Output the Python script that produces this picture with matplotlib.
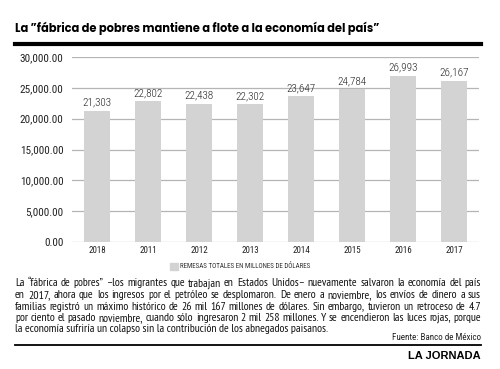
import matplotlib
matplotlib.use("Agg")
import matplotlib.pyplot as plt
from matplotlib import font_manager

# data
years = ['2018', '2011', '2012', '2013', '2014', '2015', '2016', '2017']
remesas = [21303, 22802, 22438, 22302, 23647, 24784, 26993, 26167]
yticks = [0, 5000, 10000, 15000, 20000, 25000, 30000]

title = "La \u201dfábrica de pobres mantiene a flote a la economía del país\u201d"
legend_txt = "REMESAS TOTALES EN MILLONES DE DÓLARES"
parrafo = [
    "La \u201cfábrica de pobres\u201d \u2013los migrantes que trabajan en Estados Unidos\u2013 nuevamente salvaron la economía del país",
    "en 2017, ahora que los ingresos por el petróleo se desplomaron. De enero a noviembre, los envíos de dinero a sus",
    "familias registró un máximo histórico de 26 mil 167 millones de dólares. Sin embargo, tuvieron un retroceso de 4.7",
    "por ciento el pasado noviembre, cuando sólo ingresaron 2 mil 258 millones. Y se encendieron las luces rojas, porque",
    "la economía sufriría un colapso sin la contribución de los abnegados paisanos.",
]

names = {f.name for f in font_manager.fontManager.ttflist}
def pick(*fams):
    return [f for f in fams if f in names] + ['DejaVu Sans']

narrow = pick('Roboto Condensed', 'PT Sans Narrow')
body_font = pick('PT Sans Narrow', 'Roboto Condensed')
title_font = pick('Poppins', 'Lato')

W, H = 500, 369
fig = plt.figure(figsize=(5, 3.69), dpi=100)
renderer = fig.canvas.get_renderer()

def fx(px):
    return px / W

def fy(py):
    return 1 - py / H

def width_px(t):
    return t.get_window_extent(renderer).width

# title (scaled to span the same width as the reference) and rules
t = fig.text(fx(15), fy(28), title, fontsize=11, fontweight='bold', family=title_font,
             va='center', ha='left')
t.set_fontsize(11 * 363 / width_px(t))
fig.add_artist(plt.Line2D([fx(15), fx(481)], [fy(44), fy(44)], color='black', lw=3))

# chart
ax = fig.add_axes([fx(72), fy(242), fx(479 - 72), (242 - 57) / H])
x = range(len(years))
ax.bar(x, remesas, width=0.51, color='#d3d3d3', zorder=2)
for i, v in enumerate(remesas):
    ax.text(i, v + 500, f"{v:,}", ha='center', va='bottom', fontsize=8, family=narrow,
            fontweight='light', color='#222222')
ax.set_ylim(0, 30000)
ax.set_xlim(-0.49, len(years) - 0.51)
ax.set_yticks(yticks)
ax.set_yticklabels([f"{t:,.2f}" for t in yticks], fontsize=8, family=narrow, color='#222222')
ax.set_xticks(list(x))
ax.set_xticklabels(years, fontsize=6.5, family=narrow, color='#222222')
ax.tick_params(axis='y', length=0, pad=6)
ax.tick_params(axis='x', length=0, pad=3)
ax.yaxis.grid(True, color='#b5b5b5', lw=0.9, zorder=0)
ax.set_axisbelow(True)
for s in ax.spines.values():
    s.set_visible(False)

# legend
fig.add_artist(plt.Rectangle((fx(170), fy(270)), fx(8), 7 / H, color='#d3d3d3'))
fig.text(fx(180), fy(266.5), legend_txt, fontsize=5, family=narrow, color='#333333', va='center')

# justified paragraph
left, right = 15, 481
probe = fig.text(0, 0, '', fontsize=10, family=body_font)
widest = 0
for line in parrafo[:-1]:
    probe.set_text(line)
    widest = max(widest, width_px(probe))
probe.remove()
fs = 10 * (right - left) / widest

for k, line in enumerate(parrafo):
    y = fy(286.5 + 11.5 * k)
    if k == len(parrafo) - 1:
        fig.text(fx(left), y, line, fontsize=fs, family=body_font, color='#111111', va='baseline')
        continue
    words = line.split(' ')
    arts = [fig.text(0, y, w, fontsize=fs, family=body_font, color='#111111', va='baseline') for w in words]
    widths = [width_px(a) for a in arts]
    gap = (right - left - sum(widths)) / (len(words) - 1)
    pos = left
    for a, w in zip(arts, widths):
        a.set_x(fx(pos))
        pos += w + gap

fig.text(fx(481), fy(337), "Fuente: Banco de México", fontsize=6.5, family=narrow, color='#222222',
         ha='right', va='center')
fig.add_artist(plt.Line2D([fx(15), fx(481)], [fy(345), fy(345)], color='black', lw=1.3))
fig.text(fx(481), fy(356), "LA JORNADA", fontsize=8, fontweight='bold', family=pick('Liberation Sans'),
         ha='right', va='center')

fig.savefig('out.png', dpi=100)
